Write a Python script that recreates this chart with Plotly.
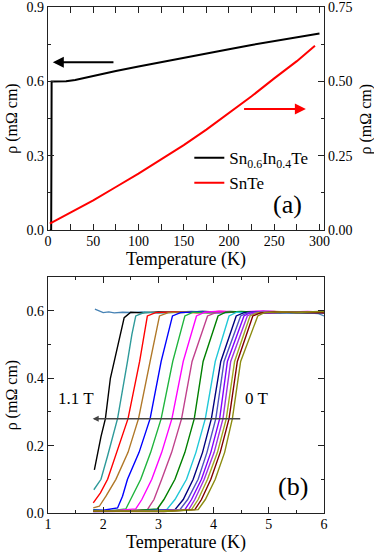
import plotly.graph_objects as go

# ---------------- Panel (a) data ----------------
snin_T = [2, 3.5, 3.8, 4.0, 5, 10, 20, 30, 50, 75, 100, 125, 150, 175, 200, 225, 250, 275, 300]
snin_rho = [0.0, 0.0, 0.3, 0.6, 0.6, 0.6, 0.601, 0.606, 0.623, 0.642, 0.66, 0.678, 0.696, 0.713, 0.73, 0.747, 0.763, 0.778, 0.793]

snte_T = [2, 25, 50, 75, 100, 125, 150, 175, 200, 225, 250, 275, 295]
snte_rho = [0.022, 0.06, 0.100, 0.145, 0.190, 0.238, 0.286, 0.338, 0.393, 0.450, 0.510, 0.568, 0.620]

# ---------------- Panel (b) data ----------------
flat_T = [1.85, 1.92, 2.0, 2.1, 2.2, 2.35, 2.5, 2.7, 3.0, 3.3, 3.6, 4.0, 4.4, 4.8, 5.2, 5.6, 5.9, 6.0]
flat_rho = [0.605, 0.600, 0.595, 0.597, 0.594, 0.596, 0.595, 0.597, 0.594, 0.596, 0.598, 0.595, 0.597, 0.594, 0.596, 0.595, 0.592, 0.585]

curve_colors = ["#000000", "#2E9A9A", "#FF0000", "#B07828", "#0000FF", "#1EB43C",
                "#FF00FF", "#C0408C", "#008000", "#20C8D8", "#000080", "#5050C0",
                "#8000FF", "#A030E0", "#A0A820", "#800000", "#8C8C10"]

curve_T = [
    [1.84, 1.96, 2.04, 2.13, 2.20, 2.29, 2.38, 2.50, 2.7, 3.0, 3.4, 3.8, 4.2, 4.6, 5.0, 5.5, 6.0],
    [1.83, 1.96, 2.08, 2.26, 2.44, 2.52, 2.59, 2.75, 3.0, 3.4, 3.8, 4.2, 4.6, 5.0, 5.5, 6.0],
    [1.82, 1.95, 2.08, 2.25, 2.45, 2.66, 2.80, 2.95, 3.3, 3.7, 4.1, 4.5, 5.0, 5.5, 6.0],
    [1.82, 1.93, 2.05, 2.23, 2.45, 2.64, 2.85, 3.02, 3.18, 3.5, 3.9, 4.3, 4.7, 5.1, 5.5, 6.0],
    [1.82, 2.0, 2.26, 2.35, 2.44, 2.65, 2.85, 3.05, 3.255, 3.40, 3.7, 4.1, 4.5, 4.9, 5.4, 6.0],
    [1.82, 2.1, 2.41, 2.50, 2.68, 2.86, 3.05, 3.26, 3.48, 3.63, 3.9, 4.3, 4.7, 5.1, 5.5, 6.0],
    [1.82, 2.2, 2.59, 2.70, 2.88, 3.06, 3.245, 3.45, 3.69, 3.84, 4.1, 4.5, 4.9, 5.3, 5.7, 6.0],
    [1.82, 2.3, 2.80, 2.92, 3.06, 3.24, 3.42, 3.61, 3.89, 4.04, 4.3, 4.7, 5.1, 5.5, 6.0],
    [1.82, 2.4, 2.98, 3.10, 3.30, 3.48, 3.65, 3.81, 4.08, 4.22, 4.5, 4.9, 5.3, 5.7, 6.0],
    [1.82, 2.5, 3.15, 3.30, 3.51, 3.68, 3.85, 4.03, 4.28, 4.42, 4.7, 5.1, 5.5, 6.0],
    [1.82, 2.6, 3.30, 3.45, 3.63, 3.80, 3.96, 4.13, 4.41, 4.55, 4.8, 5.2, 5.6, 6.0],
    [1.82, 2.7, 3.39, 3.53, 3.72, 3.88, 4.04, 4.19, 4.49, 4.62, 4.9, 5.3, 5.7, 6.0],
    [1.82, 2.8, 3.48, 3.60, 3.78, 3.95, 4.11, 4.25, 4.55, 4.68, 5.0, 5.4, 5.8, 6.0],
    [1.82, 2.9, 3.55, 3.66, 3.83, 4.01, 4.17, 4.31, 4.61, 4.74, 5.0, 5.4, 5.8, 6.0],
    [1.82, 3.0, 3.60, 3.72, 3.89, 4.07, 4.23, 4.38, 4.66, 4.80, 5.1, 5.5, 5.9, 6.0],
    [1.82, 3.1, 3.66, 3.78, 3.95, 4.12, 4.28, 4.43, 4.71, 4.85, 5.1, 5.5, 5.9, 6.0],
    [1.82, 3.2, 3.72, 3.85, 4.03, 4.20, 4.34, 4.49, 4.80, 4.92, 5.2, 5.6, 6.0],
]

curve_rho = [
    [0.128, 0.227, 0.28, 0.40, 0.45, 0.52, 0.580, 0.596, 0.594, 0.597, 0.595, 0.598, 0.596, 0.597, 0.594, 0.596, 0.595],
    [0.069, 0.10, 0.17, 0.28, 0.45, 0.53, 0.585, 0.596, 0.594, 0.596, 0.598, 0.595, 0.597, 0.596, 0.594, 0.597],
    [0.03, 0.06, 0.10, 0.18, 0.28, 0.45, 0.585, 0.595, 0.597, 0.594, 0.598, 0.596, 0.595, 0.597, 0.596],
    [0.015, 0.02, 0.05, 0.10, 0.18, 0.28, 0.45, 0.585, 0.595, 0.597, 0.594, 0.597, 0.595, 0.598, 0.596, 0.595],
    [0.010, 0.008, 0.015, 0.05, 0.10, 0.18, 0.28, 0.45, 0.585, 0.595, 0.597, 0.594, 0.597, 0.596, 0.595, 0.597],
    [0.008, 0.006, 0.012, 0.04, 0.10, 0.18, 0.28, 0.45, 0.585, 0.596, 0.594, 0.598, 0.595, 0.597, 0.595, 0.598],
    [0.005, 0.007, 0.012, 0.04, 0.10, 0.18, 0.28, 0.45, 0.585, 0.596, 0.599, 0.597, 0.600, 0.596, 0.598, 0.596],
    [0.005, 0.006, 0.010, 0.04, 0.10, 0.18, 0.28, 0.45, 0.585, 0.595, 0.597, 0.594, 0.597, 0.595, 0.596],
    [0.006, 0.005, 0.012, 0.04, 0.10, 0.18, 0.28, 0.45, 0.585, 0.596, 0.598, 0.595, 0.597, 0.594, 0.597],
    [0.006, 0.005, 0.010, 0.04, 0.10, 0.18, 0.28, 0.45, 0.585, 0.596, 0.594, 0.597, 0.595, 0.596],
    [0.005, 0.006, 0.010, 0.04, 0.10, 0.18, 0.28, 0.45, 0.585, 0.595, 0.597, 0.595, 0.597, 0.594],
    [0.004, 0.006, 0.010, 0.04, 0.10, 0.18, 0.28, 0.45, 0.585, 0.595, 0.598, 0.596, 0.594, 0.597],
    [0.006, 0.005, 0.010, 0.04, 0.10, 0.18, 0.28, 0.45, 0.585, 0.596, 0.594, 0.597, 0.595, 0.596],
    [0.004, 0.006, 0.010, 0.04, 0.10, 0.18, 0.28, 0.45, 0.585, 0.595, 0.598, 0.596, 0.597, 0.595],
    [0.005, 0.006, 0.010, 0.04, 0.10, 0.18, 0.28, 0.45, 0.585, 0.595, 0.597, 0.595, 0.598, 0.596],
    [0.005, 0.004, 0.010, 0.04, 0.10, 0.18, 0.28, 0.45, 0.585, 0.594, 0.597, 0.595, 0.596, 0.594],
    [0.006, 0.005, 0.010, 0.04, 0.10, 0.18, 0.28, 0.45, 0.585, 0.595, 0.597, 0.596, 0.598],
]

FONT = "'Liberation Serif', 'Times New Roman', Times, serif"
fig = go.Figure()

# Panel (a)
fig.add_trace(go.Scatter(x=snin_T, y=snin_rho, mode="lines", name="Sn<sub>0.6</sub>In<sub>0.4</sub>Te",
                         line=dict(color="black", width=2), xaxis="x", yaxis="y"))
fig.add_trace(go.Scatter(x=snte_T, y=snte_rho, mode="lines", name="SnTe",
                         line=dict(color="red", width=2), xaxis="x", yaxis="y2"))

# Panel (b)
fig.add_trace(go.Scatter(x=flat_T, y=flat_rho, mode="lines", showlegend=False,
                         line=dict(color="#4682B4", width=1.4), xaxis="x2", yaxis="y3"))
for T, r, c in zip(curve_T, curve_rho, curve_colors):
    fig.add_trace(go.Scatter(x=T, y=r, mode="lines", showlegend=False,
                             line=dict(color=c, width=1.4), xaxis="x2", yaxis="y3"))

axis_common = dict(showgrid=False, zeroline=False, ticks="inside", ticklen=6, tickwidth=1.2,
                   tickcolor="#222", linecolor="#222", linewidth=1.3, automargin=False,
                   ticklabeloverflow="allow",
                   tickfont=dict(family=FONT, size=14, color="black"))

fig.update_layout(
    width=374, height=553,
    margin=dict(l=48, r=50, t=7, b=40, autoexpand=False),
    paper_bgcolor="white", plot_bgcolor="white",
    font=dict(family=FONT, color="black"),
    xaxis=dict(**axis_common, domain=[0, 1], anchor="y", range=[0, 305], dtick=50,
               mirror="allticks", ticklabelstandoff=-2,
               minor=dict(ticks="inside", ticklen=3, dtick=25, tickcolor="#222"),
               title=dict(text="Temperature (K)", font=dict(family=FONT, size=18), standoff=2)),
    yaxis=dict(**axis_common, domain=[0.559, 1.0], anchor="x", range=[0, 0.9], dtick=0.3,
               tickformat=".1f", mirror=True,
               minor=dict(ticks="inside", ticklen=3, dtick=0.15, tickcolor="#222"),
               title=dict(text="ρ (mΩ cm)", font=dict(family=FONT, size=16), standoff=4)),
    yaxis2=dict(**axis_common, overlaying="y", side="right", anchor="x", range=[0, 0.75], dtick=0.25,
                tickformat=".2f", minor=dict(ticks="inside", ticklen=3, dtick=0.125, tickcolor="#222")),
    xaxis2=dict(**axis_common, domain=[0, 1], anchor="y3", range=[1, 6], dtick=1,
                mirror="allticks", ticklabelstandoff=-2,
                minor=dict(ticks="inside", ticklen=3, dtick=0.5, tickcolor="#222"),
                title=dict(text="Temperature (K)", font=dict(family=FONT, size=18), standoff=2)),
    yaxis3=dict(**axis_common, domain=[0, 0.466], anchor="x2", range=[0, 0.7], dtick=0.2,
                tickformat=".1f", mirror="allticks",
                minor=dict(ticks="inside", ticklen=3, dtick=0.1, tickcolor="#222"),
                title=dict(text="ρ (mΩ cm)", font=dict(family=FONT, size=16), standoff=4)),
    legend=dict(x=0.512, y=0.737, xanchor="left", yanchor="top", bgcolor="rgba(0,0,0,0)",
                font=dict(family=FONT, size=17, color="black"), tracegroupgap=0, itemwidth=30),
    showlegend=True,
)

annotations = [
    # right axis title of panel (a)
    dict(x=1.112, y=0.7795, xref="paper", yref="paper", text="ρ (mΩ cm)", textangle=-90,
         showarrow=False, xanchor="left", yanchor="middle",
         font=dict(family=FONT, size=16, color="black")),
    # panel (a) arrows
    dict(x=5.3, y=0.677, ax=74, ay=0.677, xref="x", yref="y", axref="x", ayref="y",
         text="", showarrow=True, arrowhead=2, arrowsize=1.1, arrowwidth=2, arrowcolor="black"),
    dict(x=285, y=0.489, ax=215, ay=0.489, xref="x", yref="y", axref="x", ayref="y",
         text="", showarrow=True, arrowhead=2, arrowsize=1.1, arrowwidth=2, arrowcolor="red"),
    dict(x=265, y=0.104, xref="x", yref="y", text="(a)", showarrow=False,
         font=dict(family=FONT, size=26, color="black")),
    # panel (b)
    dict(x=1.81, y=0.28, ax=4.51, ay=0.28, xref="x2", yref="y3", axref="x2", ayref="y3",
         text="", showarrow=True, arrowhead=2, arrowsize=0.8, arrowwidth=1.5, arrowcolor="#444"),
    dict(x=1.51, y=0.34, xref="x2", yref="y3", text="1.1 T", showarrow=False,
         font=dict(family=FONT, size=17, color="black")),
    dict(x=4.77, y=0.34, xref="x2", yref="y3", text="0 T", showarrow=False,
         font=dict(family=FONT, size=17, color="black")),
    dict(x=5.44, y=0.078, xref="x2", yref="y3", text="(b)", showarrow=False,
         font=dict(family=FONT, size=26, color="black")),
]
fig.update_layout(annotations=annotations)

fig.write_html("out.html", config={"displayModeBar": False},
               post_script="document.body.style.margin='0';")
